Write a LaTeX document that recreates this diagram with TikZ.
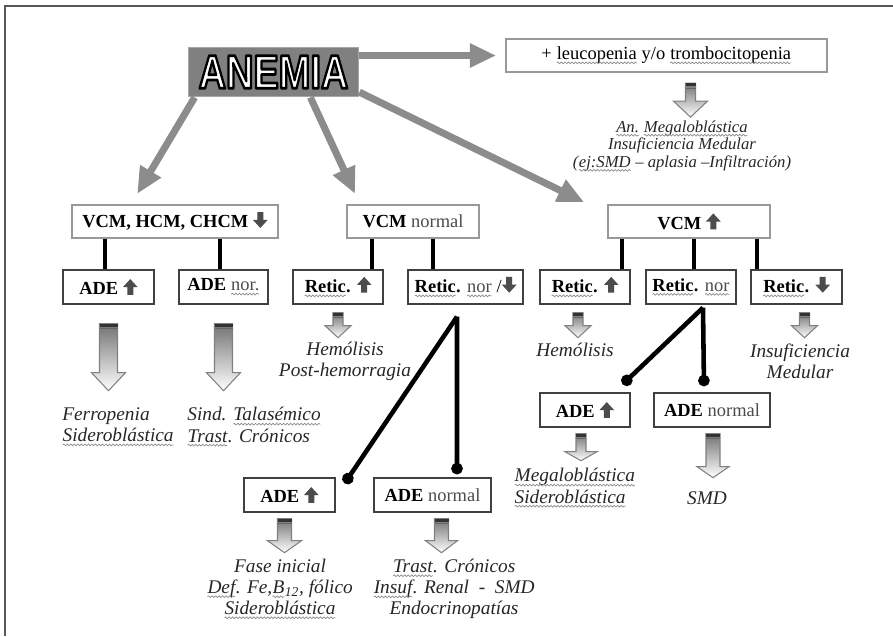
\documentclass[tikz,border=0pt]{standalone}
\usepackage{fontspec}
\setmainfont{Liberation Serif}
\newfontfamily\anemiafont{Liberation Sans}
\usetikzlibrary{arrows.meta, calc, positioning, decorations.pathmorphing}

% spell-check squiggle under a word
\newcommand\squig[1]{\tikz[baseline=(sq.base)]{\node[inner sep=0pt, outer sep=0pt, minimum size=0pt, draw=none, fill=none, anchor=base, align=left] (sq) {#1};
  \draw[black!45, line width=0.4pt, decorate, decoration={snake, amplitude=0.5pt, segment length=2pt}] ([yshift=-1.8pt]sq.base west) -- ([yshift=-1.8pt]sq.base east);}}

% white letters with a black rim (stroked text)
\newcommand\outlined[1]{\special{pdf:literal direct 0 G 1.6 w 1 j 2 Tr}#1\special{pdf:literal direct 0 Tr}}

% small thick arrows inside the boxes
\newcommand{\arup}{\tikz[baseline=0pt]\fill[black!70] (-1.7pt,0pt) -- (-1.7pt,4.4pt) -- (-4.2pt,4.4pt) -- (0pt,9pt) -- (4.2pt,4.4pt) -- (1.7pt,4.4pt) -- (1.7pt,0pt) -- cycle;}
\newcommand{\ardown}{\tikz[baseline=0pt]\fill[black!70] (-1.7pt,9pt) -- (-1.7pt,4.6pt) -- (-4.2pt,4.6pt) -- (0pt,0pt) -- (4.2pt,4.6pt) -- (1.7pt,4.6pt) -- (1.7pt,9pt) -- cycle;}

\tikzset{
  pics/dnarrow/.style n args={4}{code={
    \path[top color=black!55, bottom color=white, draw=black!50, line width=0.6pt]
      (-#2,0) -- (#2,0) -- (#2,#1-#4) -- (#3,#1-#4) -- (0,#1) -- (-#3,#1-#4) -- (-#2,#1-#4) -- cycle;
    \fill[black!80] (-#2,0) rectangle (#2,3);
    \draw[black!60, line width=0.4pt] (-#2,5) -- (#2,5);
  }}
}

\begin{document}
\begin{tikzpicture}[x=0.02cm, y=-0.02cm,
    anemiabox/.style={fill=black!50, draw=black!35, line width=1pt, minimum width=3.4cm, minimum height=0.98cm, inner sep=0pt},
    topbox/.style={draw=black!40, line width=1.3pt, fill=white, minimum height=0.66cm, inner sep=2pt, font=\fontsize{10.5}{12}\selectfont},
    subbox/.style={draw=black!75, line width=0.8pt, fill=white, minimum height=0.68cm, inner sep=2pt, font=\fontsize{10.5}{12}\selectfont},
    note/.style={inner sep=0pt, align=center, font=\fontsize{11}{12}\selectfont\itshape, text=black!85},
    bigarrow/.style={line width=4pt, black!45, -{Triangle[length=15pt,width=13pt]}},
    conn/.style={line width=2.6pt, black},
    dotconn/.style={conn, -{Circle[length=6.5pt]}}]

  \useasboundingbox (0,0) rectangle (893,636);
  % frame
  \draw[black!65, line width=1.2pt] (5,636) -- (5,6) -- (893,6);

  % ANEMIA and the boxes
  \node[anemiabox] (anemia) at (273.5,72) {\fontsize{27}{30}\selectfont\anemiafont\bfseries\color{white}\scalebox{0.8}[1]{\outlined{ANEMIA}}};
  \node[topbox, minimum width=6.42cm] (leuco) at (666.5,55.5) {+ \squig{leucopenia} y/o \squig{trombocitopenia}};

  \node[topbox, minimum width=4.12cm] (hcm) at (175,221.5) {\textbf{VCM, HCM, CHCM} \ardown};
  \node[topbox, minimum width=2.64cm] (vnorm) at (413,221.5) {\textbf{VCM} \textcolor{black!70}{normal}};
  \node[topbox, minimum width=3.24cm] (vhigh) at (689,221.5) {\textbf{VCM} \arup};

  \node[subbox, minimum width=1.82cm] (adeA) at (108.5,287) {\textbf{ADE} \arup};
  \node[subbox, minimum width=1.78cm] (adeB) at (223.5,287) {\textbf{ADE} \textcolor{black!70}{\squig{nor.}}};
  \node[subbox, minimum width=1.8cm] (retA) at (338,287) {\textbf{\squig{Retic}.} \arup};
  \node[subbox, minimum width=2.3cm] (retB) at (465.5,287) {\textbf{\squig{Retic}.} \textcolor{black!70}{\squig{nor}} /\ardown};
  \node[subbox, minimum width=1.8cm] (retC) at (585,287) {\textbf{\squig{Retic}.} \arup};
  \node[subbox, minimum width=1.8cm] (retD) at (691,287) {\textbf{\squig{Retic}.} \textcolor{black!70}{\squig{nor}}};
  \node[subbox, minimum width=1.82cm] (retE) at (796.5,287) {\textbf{\squig{Retic}.} \ardown};

  \node[subbox, minimum width=1.8cm] (adeC) at (585,410) {\textbf{ADE} \arup};
  \node[subbox, minimum width=2.32cm] (adeD) at (712,410) {\textbf{ADE} \textcolor{black!70}{normal}};
  \node[subbox, minimum width=1.82cm] (adeE) at (289.5,495) {\textbf{ADE} \arup};
  \node[subbox, minimum width=2.34cm] (adeF) at (432.5,495) {\textbf{ADE} \textcolor{black!70}{normal}};

  % gray arrows out of ANEMIA
  \draw[bigarrow] (anemia.east |- leuco.west) -- ([xshift=-5pt]leuco.west);
  \draw[bigarrow] ([xshift=4pt]anemia.south west) -- ([xshift=-21.5pt,yshift=5.7pt]hcm.north);
  \draw[bigarrow] ([xshift=21pt]anemia.south) -- ([xshift=-33pt,yshift=5.7pt]vnorm.north);
  \draw[bigarrow] ([yshift=3pt]anemia.south east) -- ([xshift=-13pt,yshift=1pt]vhigh.north west);

  % black connectors
  \draw[conn] ($(adeA.north)+(-3.5,0)$) -- ($(hcm.south)+(-70,0)$);
  \draw[conn] ($(adeB.north)+(-3.5,0)$) -- ($(hcm.south)+(45,0)$);
  \draw[conn] ($(retA.north)+(34,0)$) -- ($(vnorm.south)+(-41,0)$);
  \draw[conn] ($(retB.north)+(-32.5,0)$) -- ($(vnorm.south)+(20,0)$);
  \draw[conn] ($(retC.north)+(37,0)$) -- ($(vhigh.south)+(-67,0)$);
  \draw[conn] ($(retD.north)+(3,0)$) -- ($(vhigh.south)+(5,0)$);
  \draw[conn] ($(retE.north)+(-39.5,0)$) -- ($(vhigh.south)+(68,0)$);

  \coordinate (forkL) at ($(retB.south)+(-8.5,12)$);
  \draw[dotconn] (forkL) -- ($(adeE.north east)+(9,6)$);
  \draw[dotconn] (forkL) -- ($(adeF.north)+(24.5,-3)$);
  \coordinate (forkR) at ($(retD.south)+(12,3)$);
  \draw[dotconn] (forkR) -- ($(adeC.north east)+(-8,-8)$);
  \draw[dotconn] (forkR) -- ($(adeD.north)+(-8,-6)$);

  % shaded block arrows
  \pic at ($(leuco.south)+(24,10)$) {dnarrow={34}{5}{17}{16}};
  \pic at ($(adeA.south)+(0,19)$) {dnarrow={67}{9}{17}{18}};
  \pic at ($(adeB.south)+(0,19)$) {dnarrow={67}{9}{17}{18}};
  \pic at ($(retA.south)+(0,8)$) {dnarrow={25}{5}{13}{12}};
  \pic at ($(retC.south)+(-7,8)$) {dnarrow={25}{5}{13}{12}};
  \pic at ($(retE.south)+(8,8)$) {dnarrow={25}{5}{13}{12}};
  \pic at ($(adeC.south)+(-4,6)$) {dnarrow={27}{5}{16}{9}};
  \pic at ($(adeD.south)+(1,6)$) {dnarrow={44}{7}{16}{11}};
  \pic at ($(adeE.south)+(-5,6)$) {dnarrow={34}{7}{17}{12}};
  \pic at ($(adeF.south)+(9,6)$) {dnarrow={34}{7}{16}{12}};

  % results
  \node[note, font=\fontsize{9.5}{10}\selectfont\itshape] (megtop) at (682,146) {\squig{An.} \squig{Megaloblástica}\\Insuficiencia Medular\\(\squig{ej:SMD} – aplasia –Infiltración)};
  \node[note, align=left, anchor=west] (ferro) at (62,427) {Ferropenia\\\squig{Sideroblástica}};
  \node[note, align=left, anchor=west] (talas) at (187,427) {Sind. \squig{Talasémico}\\\squig{Trast}. Crónicos};
  \node[note] (hemoA) at (345,361) {Hemólisis\\Post-hemorragia};
  \node[note] (hemoB) at (575,350) {Hemólisis};
  \node[note] (insuf) at (800,361) {Insuficiencia\\Medular};
  \node[note, align=left, anchor=west] (mega) at (514,488) {\squig{Megaloblástica}\\\squig{Sideroblástica}};
  \node[note] (smd) at (707,498) {SMD};
  \node[note] (fase) at (280,589) {Fase inicial\\\squig{Def}. Fe,\squig{B}\textsubscript{12}, fólico\\\squig{Sideroblástica}};
  \node[note] (trast) at (454,589) {\squig{Trast}. Crónicos\\\squig{Insuf}. Renal~~-~~SMD\\Endocrinopatías};
\end{tikzpicture}
\end{document}
